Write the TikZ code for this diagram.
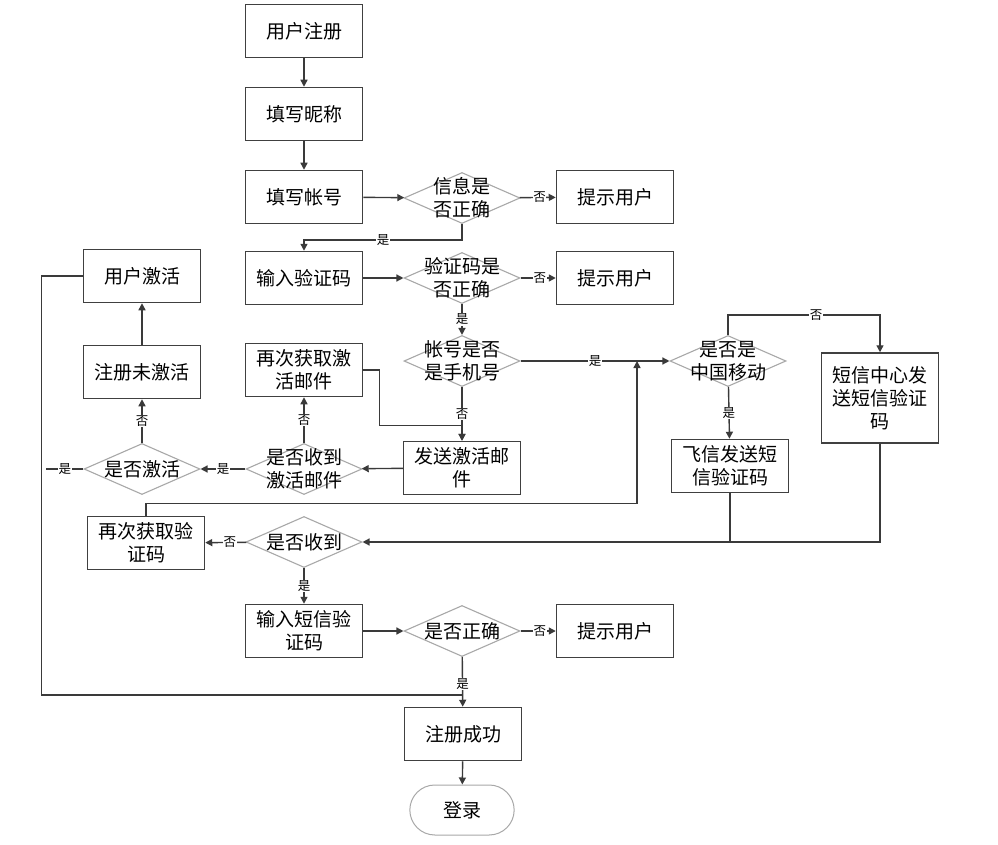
\documentclass[tikz,border=0pt]{standalone}
\usepackage{fontspec}
\setmainfont{Noto Sans CJK SC}
\usetikzlibrary{shapes.geometric,shapes.misc,arrows.meta,calc}
\definecolor{lncol}{HTML}{3A3A3A}
\definecolor{bxcol}{HTML}{404040}
\definecolor{dmcol}{HTML}{A8A8A8}
\begin{document}
\begin{tikzpicture}[x=1pt,y=-1pt,
  every node/.style={font=\fontsize{19}{23}\selectfont, align=center},
  box/.style={draw=bxcol, line width=1.5pt, fill=white, minimum width=117pt, minimum height=53pt, inner sep=1pt},
  dia/.style={diamond, draw=dmcol, line width=1.1pt, fill=white, minimum width=116pt, minimum height=51pt, inner sep=0pt},
  dt/.style={inner sep=0pt},
  lab/.style={font=\fontsize{12.5}{12.5}\selectfont, fill=white, inner sep=0.6pt},
  arr/.style={draw=lncol, line width=1.4pt, -{Triangle[length=7pt,width=7pt]}},
  conn/.style={draw=lncol, line width=1.4pt}
]
\useasboundingbox (0,0) rectangle (998,845);

% main column
\node[box] (u1) at (304,31) {用户注册};
\node[box] (u2) at (304,114) {填写昵称};
\node[box] (u3) at (304,197) {填写帐号};
\node[dia] (d1) at (462,198) {};
\node[dt] (d1t) at (d1) {信息是\\否正确};
\node[box] (t1) at (615,197) {提示用户};

\node[box] (u4) at (304,278) {输入验证码};
\node[dia] (d2) at (462,278) {};
\node[dt] (d2t) at (d2) {验证码是\\否正确};
\node[box] (t2) at (615,278) {提示用户};

\node[dia] (d3) at (462,361) {};
\node[dt] (d3t) at (d3) {帐号是否\\是手机号};
\node[dia] (d4) at (728,361) {};
\node[dt] (d4t) at (d4) {是否是\\中国移动};
\node[box, minimum height=90pt] (s2) at (880,398) {短信中心发\\送短信验证\\码};
\node[box] (s1) at (730,466) {飞信发送短\\信验证码};

\node[box] (u10) at (142,276) {用户激活};
\node[box] (u9) at (142,372) {注册未激活};
\node[dia] (d6) at (142,469) {};
\node[dt] (d6t) at (d6) {是否激活};
\node[dia] (d5) at (304,469) {};
\node[dt] (d5t) at (d5) {是否收到\\激活邮件};
\node[box] (r1) at (304,370) {再次获取激\\活邮件};
\node[box] (u7) at (462,468) {发送激活邮\\件};

\node[box] (r2) at (146,543) {再次获取验\\证码};
\node[dia] (d8) at (304,542) {};
\node[dt] (d8t) at (d8) {是否收到};
\node[box] (u12) at (304,631) {输入短信验\\证码};
\node[dia] (d9) at (462,631) {};
\node[dt] (d9t) at (d9) {是否正确};
\node[box] (t3) at (615,631) {提示用户};

\node[box] (succ) at (463,734) {注册成功};
\node[rounded rectangle, draw=dmcol, line width=1pt, minimum width=111pt, minimum height=50pt] (login) at (462,810) {登录};

% connectors
\draw[arr] (u1) -- (u2);
\draw[arr] (u2) -- (u3);
\draw[arr] (u3) -- (d1);
\draw[arr] (d1) -- node[lab,pos=0.55] {否} (t1);
\draw[arr] (d1.south) -- ++(0,16) -| node[lab,pos=0.25] {是} (u4.north);
\draw[arr] (u4) -- (d2);
\draw[arr] (d2) -- node[lab,pos=0.55] {否} (t2);
\draw[arr] (d2) -- node[lab] {是} (d3);
\draw[arr] (d3) -- node[lab,pos=0.5] {是} (d4);
\draw[arr] (d3) -- node[lab] {否} (u7);
\draw[arr] (r1.east) -- ++(16,0) |- ($(u7.north)+(0,-15)$) -- (u7.north);
\draw[arr] (u7) -- (d5);
\draw[arr] (d5) -- node[lab] {是} (d6);
\draw[arr] (d5) -- node[lab] {否} (r1);
\draw[arr] (d6) -- node[lab] {否} (u9);
\draw[arr] (u9) -- (u10);
\draw[conn] (d6.west) -- node[lab] {是} ++(-37,0);
\coordinate (m1) at (462,695);
\draw[conn] (u10.west) -- ++(-41,0) |- (m1);
\draw[arr] (d9) -- node[lab,pos=0.55] {是} (succ);
\draw[arr] (succ) -- (login);
\draw[arr] (d4.north) -- ++(0,-20) -| node[lab,pos=0.29] {否} (s2.north);
\draw[arr] (d4) -- node[lab] {是} (s1);
\draw[conn] (s1.south) -- (s1.south |- d8.east);
\draw[arr] (s2.south) |- (d8.east);
\draw[arr] (d8) -- node[lab,pos=0.4] {否} (r2);
\coordinate (j2) at (637,361);
\draw[arr] (r2.north) -- ++(0,-12) -| (j2);
\draw[arr] (d8) -- node[lab] {是} (u12);
\draw[arr] (u12) -- (d9);
\draw[arr] (d9) -- node[lab,pos=0.55] {否} (t3);
\end{tikzpicture}
\end{document}
